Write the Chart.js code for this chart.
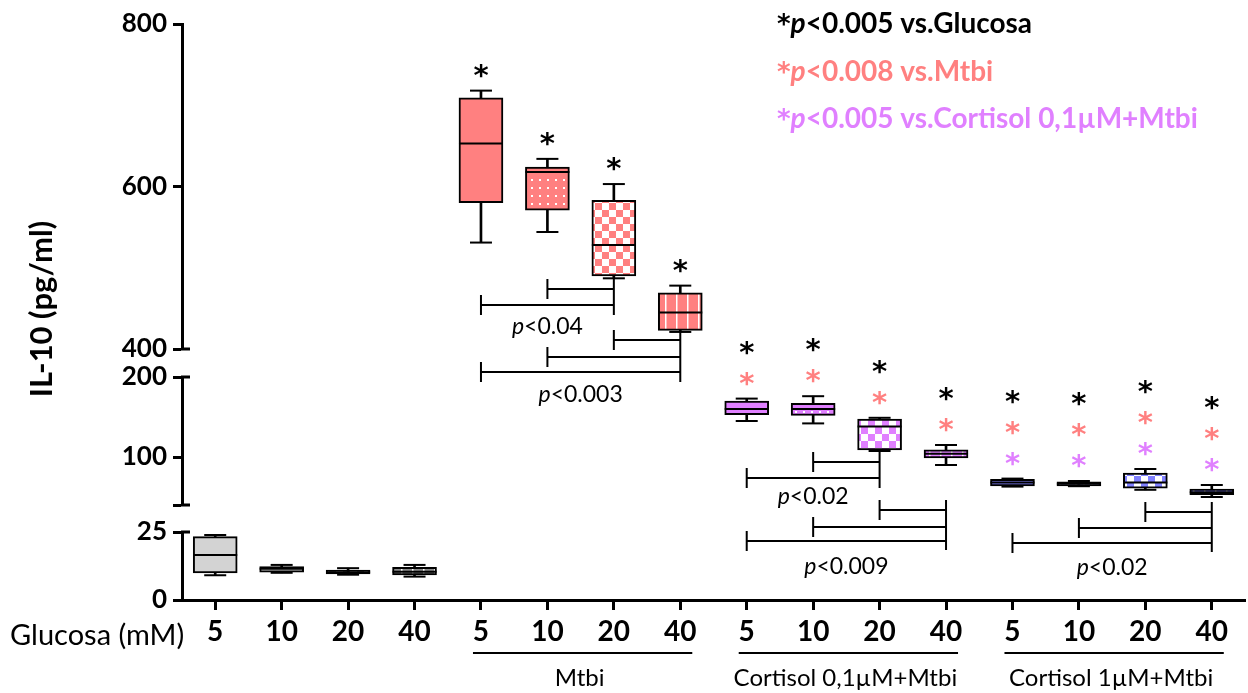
<!DOCTYPE html>
<html>
<head>
<meta charset="utf-8">
<script src="https://cdn.jsdelivr.net/npm/chart.js@4.4.1/dist/chart.umd.min.js"></script>
<style>
  html, body { margin: 0; padding: 0; background: #fff; }
  #wrap { width: 1248px; height: 693px; }
</style>
</head>
<body>
<div id="wrap"><canvas id="c" width="1248" height="693"></canvas></div>
<script>
// Glucose concentration (mM) for each box, left to right
const categories = ['5', '10', '20', '40', '5', '10', '20', '40', '5', '10', '20', '40', '5', '10', '20', '40'];
const groupNames = ['Mtbi', 'Cortisol 0,1\u00b5M+Mtbi', 'Cortisol 1\u00b5M+Mtbi'];
const xTitle = 'Glucosa (mM)';
const yTitle = 'IL-10 (pg/ml)';

// Broken y axis: three segments
const topTicks = [400, 600, 800];
const midTicks = [40, 100, 200];
const lowTicks = [0, 25];

// Box statistics per condition: [min, Q1, median, Q3, max] in pg/ml
const glucosaStats = [[9.1, 10.0, 16.5, 23.3, 23.9], [10.0, 10.2, 11.5, 12.3, 12.9], [9.3, 9.6, 10.2, 11.0, 11.7], [8.6, 9.2, 10.4, 12.0, 12.9]];
const mtbiStats = [[531, 580, 653, 709, 718], [544, 571, 618, 624, 634], [487, 490, 528, 583, 603], [421, 423, 445, 469, 478]];
const cort01Stats = [[145, 153, 160, 170, 173], [142, 152, 160, 167, 176], [107.5, 109, 138, 147.5, 149], [90, 99, 104, 109, 115]];
const cort1Stats = [[63, 64, 68, 72, 73], [63.5, 64, 66.6, 69, 70], [59, 61, 68, 80, 85], [50, 53, 56, 60, 65]];

// Significance asterisks per box (bottom to top): g = vs Glucosa, m = vs Mtbi, c = vs Cortisol 0,1µM+Mtbi
const starMarks = [[], [], [], [], ['g'], ['g'], ['g'], ['g'], ['m', 'g'], ['m', 'g'], ['m', 'g'], ['m', 'g'], ['c', 'm', 'g'], ['c', 'm', 'g'], ['c', 'm', 'g'], ['c', 'm', 'g']];
const legendLines = [['g', '<0.005 vs.Glucosa'], ['m', '<0.008 vs.Mtbi'], ['c', '<0.005 vs.Cortisol 0,1\u00b5M+Mtbi']];

// Pairwise comparison brackets: target box, compared boxes, label
const brackets = [
  { to: 6, from: [5, 4], label: '<0.04' },
  { to: 7, from: [6, 5, 4], label: '<0.003' },
  { to: 10, from: [9, 8], label: '<0.02' },
  { to: 11, from: [10, 9, 8], label: '<0.009' },
  { to: 15, from: [14, 13, 12], label: '<0.02' }
];

const STAR_COLORS = { g: '#000000', m: '#ff8080', c: '#e080ff' };
const FONT = 'Lato, "Open Sans", sans-serif';
const STAR_FONT = '"DejaVu Sans", sans-serif';

function makePattern(kind, base) {
  if (kind === 'solid') return base;
  const c = document.createElement('canvas');
  const x = c.getContext('2d');
  if (kind === 'dots') {
    c.width = 8; c.height = 8;
    x.fillStyle = base; x.fillRect(0, 0, 8, 8);
    x.fillStyle = '#fff'; x.fillRect(3, 3, 2, 2);
  } else if (kind === 'checker') {
    c.width = 14; c.height = 14;
    x.fillStyle = '#fff'; x.fillRect(0, 0, 14, 14);
    x.fillStyle = base; x.fillRect(0, 0, 7, 7); x.fillRect(7, 7, 7, 7);
  } else if (kind === 'stripes') {
    c.width = 11; c.height = 4;
    x.fillStyle = base; x.fillRect(0, 0, 11, 4);
    x.fillStyle = '#fff'; x.fillRect(5, 0, 1.5, 4);
  }
  return x.createPattern(c, 'repeat');
}
const KINDS = ['solid', 'dots', 'checker', 'stripes'];

const groups = [
  { stats: glucosaStats, axis: 'yLow', start: 0, colors: ['#d3d3d3', '#d3d3d3', '#2a2a2a', '#8a8a8a'] },
  { stats: mtbiStats, axis: 'yTop', start: 4, colors: ['#ff8080', '#ff8080', '#ff8080', '#ff8080'] },
  { stats: cort01Stats, axis: 'yMid', start: 8, colors: ['#e080ff', '#e080ff', '#e080ff', '#e080ff'] },
  { stats: cort1Stats, axis: 'yMid', start: 12, colors: ['#8080ff', '#8080ff', '#8080ff', '#8080ff'] }
];

function column(g, fn) {
  const arr = new Array(categories.length).fill(null);
  g.stats.forEach((s, i) => { arr[g.start + i] = fn(s); });
  return arr;
}

const datasets = [];
groups.forEach(g => {
  const fills = new Array(categories.length).fill('#fff');
  g.stats.forEach((s, i) => { fills[g.start + i] = makePattern(KINDS[i], g.colors[i]); });
  // whisker (min to max)
  datasets.push({
    type: 'bar', yAxisID: g.axis, order: 3, grouped: false,
    data: column(g, s => [s[0], s[4]]),
    backgroundColor: '#000', borderWidth: 0, barThickness: 2
  });
  // box (Q1 to Q3)
  datasets.push({
    type: 'bar', yAxisID: g.axis, order: 2, grouped: false,
    data: column(g, s => [s[1], s[3]]),
    backgroundColor: fills, borderColor: '#000', borderWidth: 2, borderSkipped: false, barThickness: 44
  });
  // whisker caps and median line
  [[0, 11], [4, 11], [2, 22]].forEach(([k, r]) => {
    datasets.push({
      type: 'line', yAxisID: g.axis, order: 1, showLine: false,
      data: column(g, s => s[k]),
      pointStyle: 'line', pointRadius: r, pointHoverRadius: r, pointBorderWidth: 2,
      borderColor: '#000', pointBorderColor: '#000'
    });
  });
});

const yGrid = { display: true, drawOnChartArea: false, drawTicks: true, tickLength: 9, tickWidth: 3, tickColor: '#000' };
const yBorder = { display: true, width: 3, color: '#000' };
const yTickStyle = { color: '#000', font: { family: FONT, weight: 'bold', size: 26 }, padding: 6 };
const fitY = s => { s.width = 182; };

function segmentAxis(min, max, ticks, weight, order) {
  return {
    type: 'linear', position: 'left', stack: 'y', stackWeight: weight, weight: order,
    min: min, max: max,
    afterBuildTicks: s => { s.ticks = ticks.map(v => ({ value: v })); },
    ticks: Object.assign({ callback: v => (v === 40 ? '' : v) }, yTickStyle),
    grid: yGrid, border: yBorder, afterFit: fitY
  };
}
function gapAxis(weight, order) {
  return {
    type: 'linear', position: 'left', stack: 'y', stackWeight: weight, weight: order,
    min: 0, max: 1, ticks: { display: false }, grid: { display: false }, border: { display: false }, afterFit: fitY
  };
}

function drawRuns(ctx, runs, x, y) {
  runs.forEach(([text, font, color]) => {
    ctx.font = font; ctx.fillStyle = color;
    ctx.fillText(text, x, y);
    x += ctx.measureText(text).width;
  });
}
function runsWidth(ctx, runs) {
  let w = 0;
  runs.forEach(([text, font]) => { ctx.font = font; w += ctx.measureText(text).width; });
  return w;
}
function drawStar(ctx, x, cy, color) {
  ctx.font = 'bold 29px ' + STAR_FONT;
  const m = ctx.measureText('*');
  ctx.fillStyle = color;
  ctx.textAlign = 'center';
  ctx.textBaseline = 'alphabetic';
  ctx.fillText('*', x, cy + (m.actualBoundingBoxAscent - m.actualBoundingBoxDescent) / 2);
}

const annotations = {
  id: 'annotations',
  afterDatasetsDraw(chart) {
    const ctx = chart.ctx;
    const xs = chart.scales.x;
    const bottom = chart.chartArea.bottom;
    ctx.save();
    // asterisks above each box
    groups.forEach(g => {
      const ys = chart.scales[g.axis];
      g.stats.forEach((s, i) => {
        const idx = g.start + i;
        const x = xs.getPixelForValue(idx);
        const top = ys.getPixelForValue(s[4]);
        starMarks[idx].forEach((k, j) => drawStar(ctx, x, top - 20 - j * 31, STAR_COLORS[k]));
      });
    });
    // comparison brackets (vertical offsets measured up from the x axis)
    const layout = [
      { top: null, bottom: 285, rows: [311, 295], labelY: 273 },
      { top: null, bottom: 218, rows: [260, 243, 228], labelY: 205 },
      { top: null, bottom: 112, rows: [138, 122], labelY: 103 },
      { top: 100, bottom: 50, rows: [90, 73, 59], labelY: 33 },
      { top: 98, bottom: 48, rows: [88, 72, 57], labelY: 32 }
    ];
    ctx.strokeStyle = '#000';
    ctx.lineWidth = 2;
    brackets.forEach((b, n) => {
      const L = layout[n];
      const xr = xs.getPixelForValue(b.to);
      const g = groups.find(gr => b.to >= gr.start && b.to < gr.start + gr.stats.length);
      const yTopPx = L.top === null ? chart.scales[g.axis].getPixelForValue(g.stats[b.to - g.start][1]) : bottom - L.top;
      ctx.beginPath();
      ctx.moveTo(xr, yTopPx); ctx.lineTo(xr, bottom - L.bottom);
      b.from.forEach((f, j) => {
        const xl = xs.getPixelForValue(f);
        const y = bottom - L.rows[j];
        ctx.moveTo(xl, y); ctx.lineTo(xr, y);
        ctx.moveTo(xl, y - 10); ctx.lineTo(xl, y + 10);
      });
      ctx.stroke();
      const xl = xs.getPixelForValue(b.from[b.from.length - 1]);
      const runs = [['p', 'italic 23px ' + FONT, '#000'], [b.label, '23px ' + FONT, '#000']];
      const w = runsWidth(ctx, runs);
      ctx.textAlign = 'left';
      ctx.textBaseline = 'middle';
      drawRuns(ctx, runs, (xl + xr) / 2 - w / 2, bottom - L.labelY);
    });
    ctx.restore();
  },
  afterDraw(chart) {
    const ctx = chart.ctx;
    const xs = chart.scales.x;
    const left = chart.chartArea.left;
    ctx.save();
    // axis-break end caps
    ctx.strokeStyle = '#000';
    ctx.lineWidth = 3;
    ctx.beginPath();
    [chart.scales.yTop.bottom, chart.scales.yMid.top, chart.scales.yMid.bottom, chart.scales.yLow.top].forEach(y => {
      ctx.moveTo(left - 1, y); ctx.lineTo(left + 8, y);
    });
    ctx.stroke();
    // y title
    ctx.save();
    ctx.translate(42, 309);
    ctx.rotate(-Math.PI / 2);
    ctx.font = 'bold 31px ' + FONT;
    ctx.fillStyle = '#000';
    ctx.textAlign = 'center';
    ctx.textBaseline = 'middle';
    ctx.fillText(yTitle, 0, 0);
    ctx.restore();
    // x title
    ctx.font = '29px ' + FONT;
    ctx.fillStyle = '#000';
    ctx.textAlign = 'left';
    ctx.textBaseline = 'middle';
    ctx.fillText(xTitle, 10, 636);
    // treatment groups under the axis
    ctx.lineWidth = 2;
    groupNames.forEach((name, i) => {
      const x0 = xs.getPixelForValue(4 + i * 4) - 8;
      const x1 = xs.getPixelForValue(7 + i * 4) + 12;
      ctx.beginPath();
      ctx.moveTo(x0, 653); ctx.lineTo(x1, 653);
      ctx.stroke();
      ctx.font = '24px ' + FONT;
      ctx.textAlign = 'center';
      ctx.fillText(name, (x0 + x1) / 2 - 3, 678);
    });
    // significance key
    ctx.textAlign = 'left';
    ctx.textBaseline = 'alphabetic';
    legendLines.forEach(([k, text], i) => {
      const col = STAR_COLORS[k];
      drawRuns(ctx, [['*', 'bold 26px ' + STAR_FONT, col], ['p', 'italic bold 28px ' + FONT, col], [text, 'bold 28px ' + FONT, col]], 777, 33 + i * 47.5);
    });
    ctx.restore();
  }
};

new Chart(document.getElementById('c'), {
  data: { labels: categories, datasets: datasets },
  options: {
    responsive: false,
    animation: false,
    events: [],
    layout: { autoPadding: false, padding: { top: 24, right: 3, bottom: 0, left: 0 } },
    plugins: { legend: { display: false }, tooltip: { enabled: false } },
    scales: {
      x: {
        type: 'category', labels: categories, offset: true,
        grid: { display: true, offset: false, drawOnChartArea: false, drawTicks: true, tickLength: 10, tickWidth: 3, tickColor: '#000' },
        border: { display: true, width: 3, color: '#000' },
        ticks: { color: '#000', font: { family: FONT, weight: 'bold', size: 28 }, padding: 5, maxRotation: 0, autoSkip: false },
        afterFit: s => { s.height = 93; s.paddingLeft = 0; s.paddingRight = 0; }
      },
      yTop: segmentAxis(400, 800, topTicks, 325, 5),
      gapA: gapAxis(28, 4),
      yMid: segmentAxis(40, 200, midTicks, 128, 3),
      gapB: gapAxis(27, 2),
      yLow: segmentAxis(0, 25, lowTicks, 68, 1)
    }
  },
  plugins: [annotations]
});
</script>
</body>
</html>
